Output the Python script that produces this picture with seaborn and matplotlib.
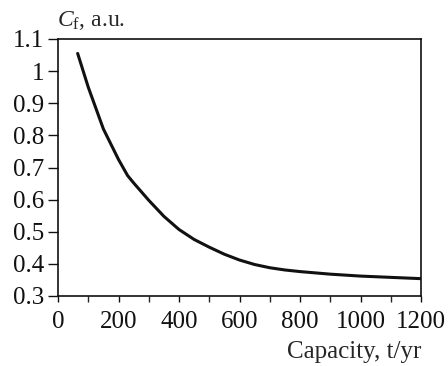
import matplotlib
matplotlib.use("Agg")
import matplotlib.pyplot as plt
import seaborn as sns
import pandas as pd

# capacity (t/yr) vs cost factor (a.u.)
capacity = [65, 100, 150, 200, 230, 250, 300, 350, 400, 450, 500, 550, 600, 650,
            700, 750, 800, 900, 1000, 1100, 1200]
cost_factor = [1.055, 0.95, 0.82, 0.725, 0.675, 0.652, 0.598, 0.548, 0.507, 0.476,
               0.452, 0.430, 0.412, 0.398, 0.388, 0.381, 0.376, 0.368, 0.362, 0.358, 0.354]

x_ticks = [0, 200, 400, 600, 800, 1000, 1200]
y_ticks = [0.3, 0.4, 0.5, 0.6, 0.7, 0.8, 0.9, 1.0, 1.1]
y_labels = ["0.3", "0.4", "0.5", "0.6", "0.7", "0.8", "0.9", "1", "1.1"]

df = pd.DataFrame({"Capacity": capacity, "Cf": cost_factor})

sns.set_theme(style="ticks")
plt.rcParams["font.family"] = ["Liberation Serif", "DejaVu Serif"]
plt.rcParams["mathtext.fontset"] = "custom"
plt.rcParams["mathtext.rm"] = "Liberation Serif"
plt.rcParams["mathtext.it"] = "Liberation Serif:italic"

fig = plt.figure(figsize=(4.48, 3.66), dpi=100)
ax = fig.add_axes([58 / 448, 1 - 296 / 366, 363 / 448, 257 / 366])

sns.lineplot(data=df, x="Capacity", y="Cf", ax=ax, color="#111111", linewidth=2.2)

ax.set_xlim(0, 1200)
ax.set_ylim(0.3, 1.1)
ax.set_xticks(x_ticks)
ax.set_xticks(range(100, 1200, 200), minor=True)
ax.set_yticks(y_ticks)
ax.set_yticklabels(y_labels)
ax.tick_params(axis="both", labelsize=18, colors="#111111", width=1)
ax.tick_params(axis="x", direction="out", length=4, pad=7)
ax.tick_params(axis="x", which="minor", direction="out", length=4, width=1)
ax.tick_params(axis="y", direction="out", length=7, pad=3)
for s in ax.spines.values():
    s.set_linewidth(1.2)
    s.set_color("#111111")
ax.set_xlabel("")
ax.set_ylabel("")

fig.text(57 / 448, 1 - 26 / 366, r"$C_{\mathrm{f}}$, a.u.", fontsize=17, ha="left", va="baseline")
fig.text(421 / 448, 1 - 358 / 366, "Capacity, t/yr", fontsize=18, ha="right", va="baseline")

fig.savefig("out.png", dpi=100)
